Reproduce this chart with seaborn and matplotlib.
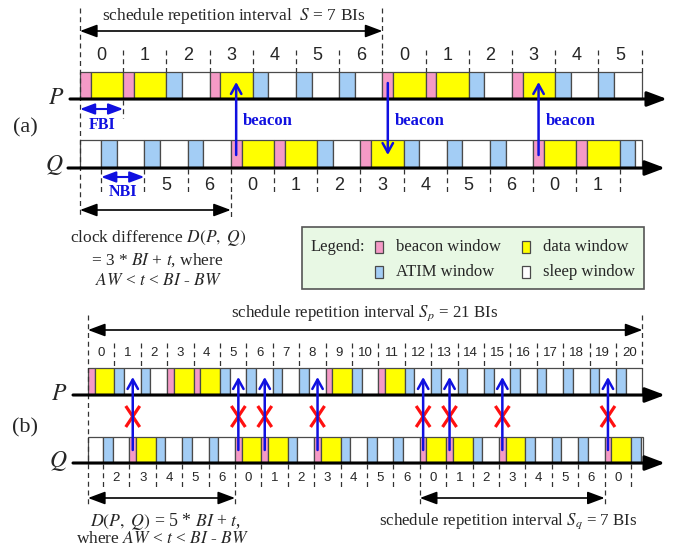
import matplotlib
matplotlib.use("Agg")
import matplotlib.pyplot as plt
from matplotlib.patches import Rectangle
import seaborn as sns

# window kinds per slot: B = beacon + data window, A = ATIM + sleep window
a_p_labels = ["0", "1", "2", "3", "4", "5", "6", "0", "1", "2", "3", "4", "5"]
a_p_kinds = ["B", "B", "A", "B", "A", "A", "A", "B", "B", "A", "B", "A", "A"]
a_q_labels = ["", "5", "6", "0", "1", "2", "3", "4", "5", "6", "0", "1", ""]
a_q_kinds = ["A", "A", "A", "B", "B", "A", "B", "A", "A", "A", "B", "B", "A"]
a_q_lead = 0.49   # Q clock offset inside first BI (in BIs)

b_p_labels = [str(i) for i in range(21)]
b_p_kinds = ["B", "A", "A", "B", "B", "A", "A", "A", "A", "B", "A",
             "B", "A", "A", "A", "A", "A", "A", "A", "A", "A"]
b_q_labels = ["2", "3", "4", "5", "6", "0", "1", "2", "3", "4", "5",
              "6", "0", "1", "2", "3", "4", "5", "6", "0", ""]
b_q_kinds = ["A", "B", "A", "A", "A", "B", "B", "A", "B", "A", "A",
             "A", "B", "B", "A", "B", "A", "A", "A", "B", "A"]
b_q_lead = 0.57

BW = 0.25   # beacon window length (BI)
AW = 0.36   # ATIM window length (BI)

PINK = "#f59ac6"
YELLOW = "#ffff00"
BLUE = "#a3cdf5"
WHITE = "#ffffff"
EDGE = "#4a4a4a"
ARROW_BLUE = "#1010e0"

sns.set_theme(style="white")
plt.rcParams["font.family"] = ["Liberation Serif", "DejaVu Serif"]
plt.rcParams["mathtext.fontset"] = "stix"

fig = plt.figure(figsize=(6.76, 5.5), dpi=100)
ax = fig.add_axes([0, 0, 1, 1])
ax.set_xlim(0, 676)
ax.set_ylim(550, 0)
ax.axis("off")

DASH = (0, (4, 3))


def vdash(x, y0, y1, lw=0.9):
    ax.plot([x, x], [y0, y1], color="#333333", lw=lw, ls=DASH)


def draw_row(x0, bi, lead, kinds, y_top, y_bot, x_end):
    h = y_bot - y_top
    if lead > 0:
        ax.add_patch(Rectangle((x0, y_top), lead * bi, h, fc=WHITE, ec=EDGE, lw=0.9))
    starts = []
    for i, k in enumerate(kinds):
        s = x0 + (lead + i) * bi
        starts.append(s)
        if k == "B":
            parts = [(0, BW, PINK), (BW, 1, YELLOW)]
        else:
            parts = [(0, AW, BLUE), (AW, 1, WHITE)]
        for a, b, c in parts:
            l = s + a * bi
            r = min(s + b * bi, x_end)
            if r > l:
                ax.add_patch(Rectangle((l, y_top), r - l, h, fc=c, ec=EDGE, lw=0.9))
    return starts


def axis_line(y, x0, x1):
    ax.annotate("", xy=(x1, y), xytext=(x0, y),
                arrowprops=dict(arrowstyle="-|>,head_length=1.2,head_width=0.45",
                                lw=2.2, color="black", mutation_scale=10,
                                shrinkA=0, shrinkB=0))


def dbl_arrow(x0, x1, y, color="black", lw=1.2, ms=13):
    ax.annotate("", xy=(x1, y), xytext=(x0, y),
                arrowprops=dict(arrowstyle="<|-|>,head_length=0.8,head_width=0.3",
                                lw=lw, color=color, mutation_scale=ms,
                                shrinkA=0, shrinkB=0))


def beacon_arrow(x, y_from, y_to):
    ax.annotate("", xy=(x, y_to), xytext=(x, y_from),
                arrowprops=dict(arrowstyle="->,head_length=0.45,head_width=0.25",
                                lw=1.8, color=ARROW_BLUE, mutation_scale=15,
                                shrinkA=0, shrinkB=0))


# ---------------- (a) ----------------
ax0, bia = 80, 43.2
p_end_a = ax0 + len(a_p_kinds) * bia
q_end_a = 641.5

ps = draw_row(ax0, bia, 0, a_p_kinds, 72, 99, p_end_a)
qs = draw_row(ax0, bia, a_q_lead, a_q_kinds, 140, 168, q_end_a)
axis_line(99, 70, 667)
axis_line(168, 68, 665)

for s, lab in zip(ps, a_p_labels):
    if s > ax0:
        vdash(s, 50, 72)
    ax.text(s + bia / 2, 55, lab, ha="center", va="center", fontsize=13,
            family="Liberation Sans")
vdash(p_end_a, 50, 72)
for s, lab in zip(qs, a_q_labels):
    vdash(s, 169, 194)
    if lab:
        ax.text(s + bia / 2, 185, lab, ha="center", va="center", fontsize=13,
                family="Liberation Sans")

# long guide lines
vdash(ax0, 8, 218)
vdash(ps[7], 8, 50)
vdash(ps[1], 100, 118)
q0 = qs[a_q_labels.index("0")]
vdash(q0, 194, 218)

ax.text(102, 16, "schedule repetition interval  $S$ = 7 BIs", ha="left",
        va="center", fontsize=12.5)
dbl_arrow(ax0, ps[7], 31)

# FBI / NBI
dbl_arrow(ax0, ps[1], 109, color=ARROW_BLUE, lw=1.5, ms=11)
ax.text((ax0 + ps[1]) / 2, 125, "FBI", ha="center", va="center", fontsize=11.5,
        fontweight="bold", color=ARROW_BLUE)
dbl_arrow(qs[0], qs[1], 177, color=ARROW_BLUE, lw=1.5, ms=11)
ax.text((qs[0] + qs[1]) / 2, 192, "NBI", ha="center", va="center", fontsize=11.5,
        fontweight="bold", color=ARROW_BLUE)

# beacon arrows
for i, k in enumerate(a_q_kinds):
    if k == "B" and a_q_labels[i] == "0":
        x = qs[i] + BW * bia / 2
        beacon_arrow(x, 155, 82)
        ax.text(x + 7, 121, "beacon", ha="left", va="center", fontsize=12,
                fontweight="bold", color=ARROW_BLUE)
xb = ps[7] + BW * bia / 2
beacon_arrow(xb, 83, 155)
ax.text(xb + 7, 121, "beacon", ha="left", va="center", fontsize=12,
        fontweight="bold", color=ARROW_BLUE)

ax.text(64, 99, "$P$", ha="right", va="center", fontsize=17)
ax.text(64, 165, "$Q$", ha="right", va="center", fontsize=17)
ax.text(25, 128, "(a)", ha="center", va="center", fontsize=16)

dbl_arrow(ax0, q0, 210)
ax.text(158, 238, "clock difference $D(P,\\ Q)$", ha="center", va="center", fontsize=12.5)
ax.text(157, 260, "= 3 * $BI$ + $t$, where", ha="center", va="center", fontsize=12.5)
ax.text(159, 281, "$AW$ < $t$ < $BI$ - $BW$", ha="center", va="center", fontsize=12.5)

# legend box
ax.add_patch(Rectangle((302, 227), 342, 62, fc="#e8f8e4", ec="#555555", lw=1.2))
ax.text(311, 247, "Legend:", ha="left", va="center", fontsize=12)
legend_items = [("beacon window", PINK, 375, 247), ("data window", YELLOW, 522, 247),
                ("ATIM window", BLUE, 375, 272), ("sleep window", WHITE, 522, 272)]
for name, c, lx, ly in legend_items:
    ax.add_patch(Rectangle((lx, ly - 6), 8, 12, fc=c, ec=EDGE, lw=0.9))
    ax.text(lx + 21, ly, name, ha="left", va="center", fontsize=12)

# ---------------- (b) ----------------
bx0, bib = 88, 26.4
p_end_b = bx0 + len(b_p_kinds) * bib
q_end_b = 643

ps_b = draw_row(bx0, bib, 0, b_p_kinds, 368, 395, p_end_b)
qs_b = draw_row(bx0, bib, b_q_lead, b_q_kinds, 437, 463, q_end_b)
axis_line(395, 73, 665)
axis_line(463, 73, 665)

for s, lab in zip(ps_b, b_p_labels):
    if s > bx0:
        vdash(s, 343, 368)
    ax.text(s + bib / 2, 353, lab, ha="center", va="center", fontsize=9.5,
            family="Liberation Sans")
vdash(p_end_b, 315, 368)
vdash(bx0, 315, 505)
for s, lab in zip(qs_b, b_q_labels):
    vdash(s, 464, 490)
    if lab:
        ax.text(s + bib / 2, 478, lab, ha="center", va="center", fontsize=9.5,
                family="Liberation Sans")
zero_idx = [i for i, lab in enumerate(b_q_labels) if lab == "0"]
for i in zero_idx:
    vdash(qs_b[i], 490, 505)

ax.text(231, 313, "schedule repetition interval $S_p$ = 21 BIs", ha="left",
        va="center", fontsize=12.2)
dbl_arrow(bx0, p_end_b, 330)

# crossed beacon arrows
for i, k in enumerate(b_q_kinds):
    if k == "B":
        x = qs_b[i] + BW * bib / 2
        beacon_arrow(x, 450, 377)
        ax.plot([x - 7, x + 7], [406, 427], color="#ff1010", lw=2.3, solid_capstyle="butt")
        ax.plot([x - 7, x + 7], [427, 406], color="#ff1010", lw=2.3, solid_capstyle="butt")

ax.text(67, 395, "$P$", ha="right", va="center", fontsize=17)
ax.text(68, 461, "$Q$", ha="right", va="center", fontsize=17)
ax.text(25, 428, "(b)", ha="center", va="center", fontsize=16)

dbl_arrow(bx0, qs_b[zero_idx[0]], 498)
dbl_arrow(qs_b[zero_idx[1]], qs_b[zero_idx[2]], 498)
ax.text(90, 521, "$D(P,\\ Q)$ = 5 * $BI$ + $t$,", ha="left", va="center", fontsize=12.8)
ax.text(76, 539, "where $AW$ < $t$ < $BI$ - $BW$", ha="left", va="center", fontsize=12.5)
ax.text(379, 521, "schedule repetition interval $S_q$ = 7 BIs", ha="left",
        va="center", fontsize=12.2)

fig.savefig("out.png", dpi=100, facecolor="white")
